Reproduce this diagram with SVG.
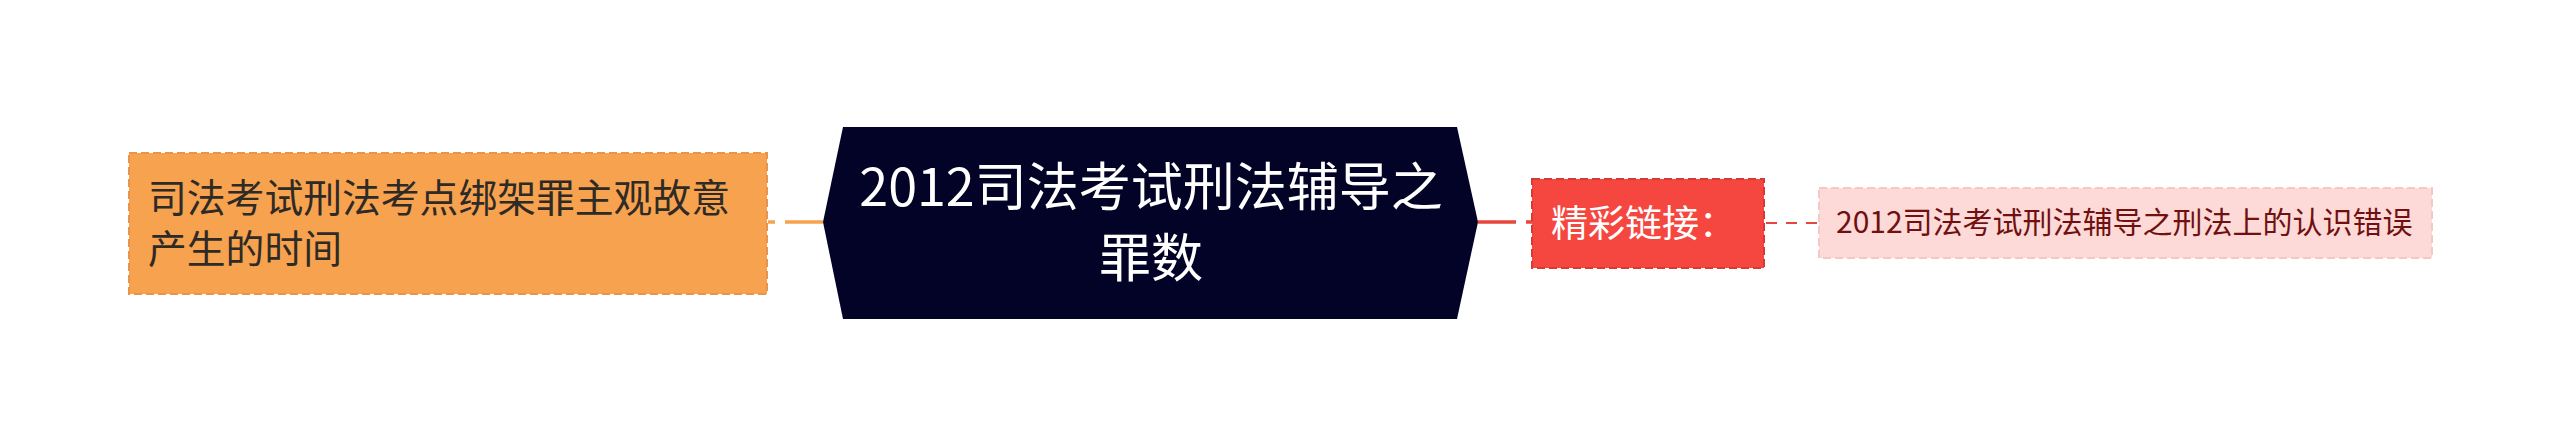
<svg xmlns="http://www.w3.org/2000/svg" width="2560" height="447" viewBox="0 0 2560 447">
<style>
text{font-family:"Noto Sans CJK SC","Noto Sans",sans-serif}
.c1{fill:none;stroke:#F7A24F;stroke-width:3.5;stroke-dasharray:38 10}
.c2{fill:none;stroke:#E8453C;stroke-width:3.5;stroke-dasharray:38 10}
.c3{fill:none;stroke:#E8453C;stroke-width:2;stroke-dasharray:11 9}
</style>
<rect width="2560" height="447" fill="#FFFFFF"/>
<g id="connectors">
<line class="c1" x1="823" y1="222" x2="768" y2="222"/>
<line class="c2" x1="1478" y1="222" x2="1532" y2="222"/>
<line class="c3" x1="1766" y1="223" x2="1819" y2="223"/>
</g>
<g id="central">
<polygon points="843,127 1457,127 1478,222 1457,319 843,319 823,222" fill="#020327"/>
<text x="1151" y="206" font-size="52" fill="#FFFFFF" text-anchor="middle">2012司法考试刑法辅导之</text>
<text x="1151" y="277" font-size="52" fill="#FFFFFF" text-anchor="middle">罪数</text>
</g>
<g id="left-node">
<rect x="129" y="153" width="638" height="141" fill="#F7A24F" stroke="#E8944A" stroke-width="2" stroke-dasharray="8 4"/>
<text x="148" y="212" font-size="38.8" fill="#2E2A26">司法考试刑法考点绑架罪主观故意</text>
<text x="148" y="263" font-size="38.8" fill="#2E2A26">产生的时间</text>
</g>
<g id="red-node">
<rect x="1532" y="179" width="232" height="89" fill="#F5473F" stroke="#D63B33" stroke-width="2" stroke-dasharray="8 4"/>
<text x="1551" y="237" font-size="37" fill="#FFFFFF">精彩链接：</text>
</g>
<g id="pink-node">
<rect x="1819" y="188" width="613" height="70" fill="#FDDAD7" stroke="#F6C8C4" stroke-width="2" stroke-dasharray="8 4"/>
<text x="1836" y="233" font-size="30" fill="#701010">2012司法考试刑法辅导之刑法上的认识错误</text>
</g>
</svg>
